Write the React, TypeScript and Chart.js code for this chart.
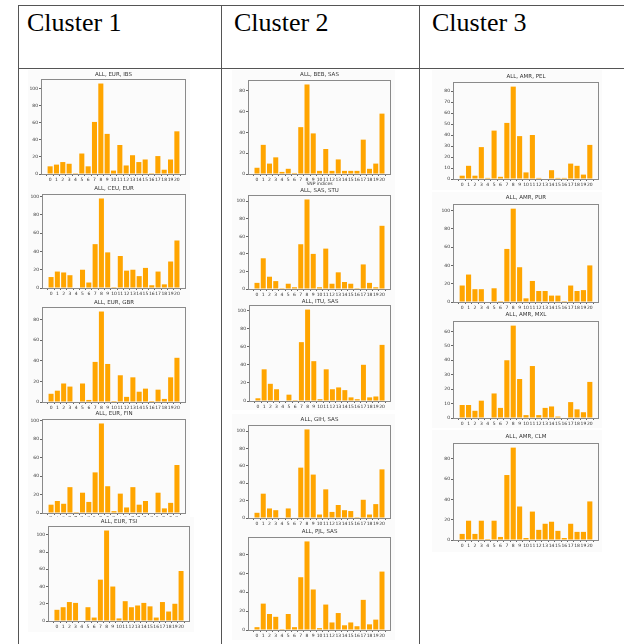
import React, { useEffect, useRef } from "react";
import { Chart, registerables } from "chart.js";

Chart.register(...registerables);
Chart.defaults.font.family = "'DejaVu Sans', sans-serif";

const xLabels = ["0","1","2","3","4","5","6","7","8","9","10","11","12","13","14","15","16","17","18","19","20"];
const clusterNames = ["Cluster 1", "Cluster 2", "Cluster 3"];

const ibs = [9,11,14,12,1,24,9,61,106,47,4,34,10,22,14,17,1,21,5,17,50];
const ceu = [12,18,17,14,0,20,6,48,98,39,1,35,19,20,13,22,3,18,4,29,52];
const gbr = [8,11,18,15,0,18,2,39,88,37,1,26,5,24,10,13,1,12,3,24,43];
const fin = [9,13,10,28,1,22,12,44,97,29,2,21,6,28,9,13,0,22,5,11,52];
const tsi = [13,16,22,21,0,16,4,48,105,40,3,23,16,18,21,17,4,22,11,20,58];
const beb = [6,28,10,16,2,5,1,45,86,39,3,24,3,14,3,3,3,33,5,10,58];
const stu = [7,35,14,9,1,6,2,51,102,40,2,46,6,19,8,6,1,28,7,2,72];
const itu = [3,35,19,13,0,7,1,65,101,44,2,35,13,15,12,4,2,40,4,5,62];
const gih = [6,28,11,9,0,11,0,58,102,50,4,33,7,15,9,8,1,21,4,16,56];
const pjl = [3,28,17,14,1,17,3,56,94,43,2,27,8,18,5,8,4,32,6,11,62];
const pel = [3,12,3,29,1,44,2,51,84,39,6,40,1,0,8,1,1,14,12,4,31];
const pur = [18,30,14,14,0,15,1,58,102,38,4,23,12,12,7,7,1,18,12,13,40];
const mxl = [9,9,5,12,0,17,7,40,64,27,2,36,2,7,8,1,0,11,6,4,25];
const clm = [6,19,6,19,1,19,3,64,91,33,2,28,10,16,18,9,2,16,8,8,38];

type Panel = {
  title: string; values: number[]; yStep: number;
  imgL: number; imgT: number; imgR: number; imgB: number;
  L: number; T: number; R: number; B: number; titleY: number;
  xTitle?: string; xTitleY?: number; rot?: number;
};

const panels: Panel[] = [
  { title: "ALL, EUR, IBS", values: ibs, yStep: 20, imgL: 28, imgT: 70, imgR: 190, imgB: 184, L: 41, T: 79, R: 186, B: 174, titleY: 75 },
  { title: "ALL, CEU, EUR", values: ceu, yStep: 20, imgL: 28, imgT: 184, imgR: 190, imgB: 298, L: 42, T: 194, R: 186, B: 288, titleY: 189 },
  { title: "ALL, EUR, GBR", values: gbr, yStep: 20, imgL: 28, imgT: 298, imgR: 190, imgB: 410, L: 42, T: 307, R: 186, B: 402, titleY: 303 },
  { title: "ALL, EUR, FIN", values: fin, yStep: 20, imgL: 28, imgT: 409, imgR: 190, imgB: 521, L: 42, T: 419, R: 186, B: 513, titleY: 414, rot: 90 },
  { title: "ALL, EUR, TSI", values: tsi, yStep: 20, imgL: 28, imgT: 517, imgR: 194, imgB: 632, L: 48, T: 526, R: 190, B: 621, titleY: 522 },
  { title: "ALL, BEB, SAS", values: beb, yStep: 20, imgL: 232, imgT: 70, imgR: 395, imgB: 188, L: 248, T: 80, R: 391, B: 174, titleY: 75, xTitle: "SNP indices", xTitleY: 184 },
  { title: "ALL, SAS, STU", values: stu, yStep: 20, imgL: 232, imgT: 188, imgR: 395, imgB: 298, L: 248, T: 195, R: 391, B: 289, titleY: 191 },
  { title: "ALL, ITU, SAS", values: itu, yStep: 20, imgL: 232, imgT: 298, imgR: 395, imgB: 410, L: 249, T: 305, R: 391, B: 401, titleY: 302 },
  { title: "ALL, GIH, SAS", values: gih, yStep: 20, imgL: 232, imgT: 414, imgR: 395, imgB: 527, L: 248, T: 425, R: 391, B: 518, titleY: 420 },
  { title: "ALL, PJL, SAS", values: pjl, yStep: 20, imgL: 232, imgT: 527, imgR: 395, imgB: 640, L: 248, T: 537, R: 391, B: 630, titleY: 532 },
  { title: "ALL, AMR, PEL", values: pel, yStep: 10, imgL: 432, imgT: 70, imgR: 602, imgB: 190, L: 453, T: 82, R: 599, B: 179, titleY: 77 },
  { title: "ALL, AMR, PUR", values: pur, yStep: 20, imgL: 432, imgT: 192, imgR: 602, imgB: 312, L: 453, T: 204, R: 599, B: 302, titleY: 198 },
  { title: "ALL, AMR, MXL", values: mxl, yStep: 10, imgL: 432, imgT: 309, imgR: 602, imgB: 428, L: 453, T: 321, R: 599, B: 418, titleY: 315 },
  { title: "ALL, AMR, CLM", values: clm, yStep: 20, imgL: 432, imgT: 430, imgR: 602, imgB: 552, L: 453, T: 443, R: 599, B: 540, titleY: 437 },
];

function BarPanel({ p }: { p: Panel }) {
  const ref = useRef<HTMLCanvasElement | null>(null);
  const w = p.imgR - p.imgL;
  const h = p.imgB - p.imgT;
  useEffect(() => {
    if (!ref.current) return;
    const ymax = Math.max(...p.values) * 1.05;
    const framePlugin = {
      id: "mplFrame",
      afterDraw(chart: any) {
        const { ctx, chartArea } = chart;
        const { left, top, right, bottom } = chartArea;
        ctx.save();
        ctx.strokeStyle = "#8a8a8a";
        ctx.lineWidth = 1;
        ctx.strokeRect(Math.round(left) + 0.5, Math.round(top) + 0.5, Math.round(right - left) - 1, Math.round(bottom - top));
        ctx.fillStyle = "#333";
        ctx.textAlign = "center";
        ctx.textBaseline = "middle";
        ctx.font = "5.5px 'DejaVu Sans', sans-serif";
        ctx.fillText(p.title, (left + right) / 2, p.titleY - p.imgT);
        if (p.xTitle && p.xTitleY) {
          ctx.font = "4.5px 'DejaVu Sans', sans-serif";
          ctx.fillText(p.xTitle, (left + right) / 2, p.xTitleY - p.imgT);
        }
        ctx.restore();
      },
    };
    const chart = new Chart(ref.current, {
      type: "bar",
      data: {
        datasets: [
          {
            data: p.values.map((v, i) => ({ x: i, y: v })),
            backgroundColor: "#ffa500",
            borderWidth: 0,
            barPercentage: 0.8,
            categoryPercentage: 1,
          },
        ],
      },
      options: {
        animation: false,
        responsive: false,
        maintainAspectRatio: false,
        events: [],
        layout: { padding: { left: 0, top: p.T - p.imgT, right: p.imgR - p.R, bottom: 0 } },
        plugins: { legend: { display: false }, tooltip: { enabled: false }, title: { display: false } },
        scales: {
          x: {
            type: "linear",
            min: -1.44,
            max: 21.44,
            offset: false,
            grid: { display: true, drawOnChartArea: false, drawTicks: true, tickLength: 2, color: "#666" },
            border: { display: false },
            ticks: {
              stepSize: 1,
              autoSkip: false,
              maxRotation: p.rot || 0,
              minRotation: p.rot || 0,
              padding: 1,
              color: "#333",
              font: { size: p.rot ? 3.5 : 4.5 },
              callback: (v: any) => xLabels[v as number] ?? "",
            },
            afterBuildTicks: (s: any) => {
              s.ticks = s.ticks.filter((t: any) => t.value >= 0 && t.value <= 20);
            },
            afterFit: (s: any) => {
              s.height = p.imgB - p.B;
            },
          },
          y: {
            min: 0,
            max: ymax,
            grid: { display: true, drawOnChartArea: false, drawTicks: true, tickLength: 2, color: "#666" },
            border: { display: false },
            ticks: {
              stepSize: p.yStep,
              includeBounds: false,
              padding: 1,
              color: "#333",
              font: { size: 4.5 },
            },
            afterFit: (s: any) => {
              s.width = p.L - p.imgL;
            },
          },
        },
      } as any,
      plugins: [framePlugin],
    });
    return () => chart.destroy();
  }, []);
  return (
    <canvas
      ref={ref}
      width={w}
      height={h}
      style={{ position: "absolute", left: p.imgL, top: p.imgT, width: w, height: h, background: "#fbfbfb" }}
    />
  );
}

const lineColor = "#555";

export default function App() {
  const colX = [18, 221, 419];
  const headerX = [27, 234, 432];
  return (
    <div style={{ position: "absolute", left: 0, top: 0, width: 624, height: 644, overflow: "hidden", background: "#fff" }}>
      <div style={{ position: "absolute", left: 18, top: 5, width: 620, height: 1, background: lineColor }} />
      <div style={{ position: "absolute", left: 18, top: 68, width: 620, height: 1, background: lineColor }} />
      {colX.map((x, i) => (
        <div key={"v" + i} style={{ position: "absolute", left: x, top: 5, width: 1, height: 650, background: lineColor }} />
      ))}
      {clusterNames.map((n, i) => (
        <div
          key={n}
          style={{
            position: "absolute",
            left: headerX[i],
            top: 10,
            fontFamily: "'Liberation Serif', 'Times New Roman', serif",
            fontSize: 26,
            lineHeight: "26px",
            color: "#000",
            whiteSpace: "nowrap",
          }}
        >
          {n}
        </div>
      ))}
      {panels.map((p) => (
        <BarPanel key={p.title} p={p} />
      ))}
    </div>
  );
}
